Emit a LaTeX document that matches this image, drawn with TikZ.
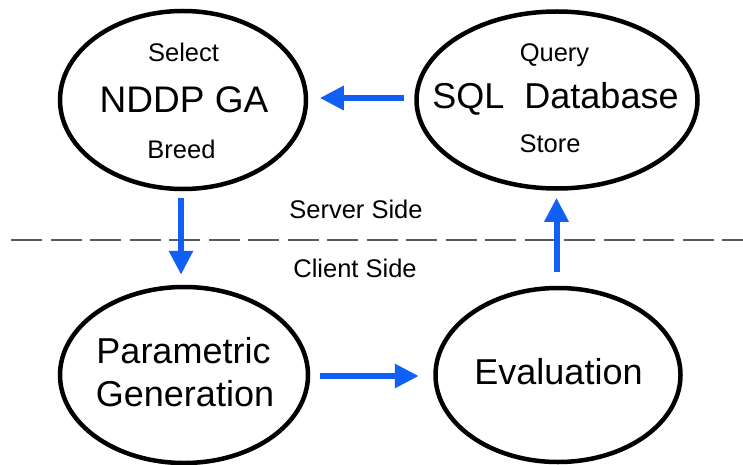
\documentclass[tikz,border=0pt]{standalone}
\usepackage{fontspec}
\setmainfont{Liberation Sans}
\usetikzlibrary{shapes.geometric,arrows.meta}
\definecolor{arrblue}{RGB}{16,96,245}
\definecolor{dashgray}{RGB}{90,90,90}
\tikzset{
  oval/.style={ellipse, draw=black, line width=4.5pt, inner sep=0pt},
  big/.style={anchor=base, inner sep=0pt, font=\fontsize{36}{43}\selectfont},
  small/.style={anchor=base, inner sep=0pt, font=\fontsize{25.5}{30}\selectfont},
  arr/.style={draw=arrblue, line width=6pt, -{Triangle[length=24pt,width=23pt]}},
  divider/.style={draw=dashgray, line width=2pt, dash pattern=on 31pt off 8.5pt}
}
\begin{document}
\begin{tikzpicture}[x=1pt,y=-1pt]
\useasboundingbox (0,0) rectangle (743,465);
% divider
\coordinate (dl) at (11,240);
\coordinate (dr) at (743,240);
\draw[divider] (dl) -- (dr);
% ellipses
\node[oval, minimum width=246pt, minimum height=178pt] (nddp) at (183,100) {};
\node[oval, minimum width=281pt, minimum height=177pt] (sql) at (557,100) {};
\node[oval, minimum width=248pt, minimum height=176pt] (param) at (184,375) {};
\node[oval, minimum width=245pt, minimum height=174pt] (eval) at (558,375) {};
% texts
\node[small] (select) at (183.5,62) {Select};
\node[big, font=\fontsize{37}{43}\selectfont] (nddpt) at (184,113) {NDDP GA};
\node[small] (breed) at (181.5,158) {Breed};
\node[small] (query) at (554.5,62) {Query};
\node[big] (sqlt) at (555.5,109) {SQL\hspace{10pt} Database};
\node[small] (store) at (550,153) {Store};
\node[big] (paramt1) at (183.5,363) {Parametric};
\node[big] (paramt2) at (185,406) {Generation};
\node[big] (evalt) at (558.5,384) {Evaluation};
\node[small] (server) at (356,218) {Server Side};
\node[small] (client) at (355,277) {Client Side};
% arrows
\draw[arr, shorten <=10.5pt, shorten >=11.5pt] ([yshift=2pt]sql.west) -- ([yshift=2pt]sql.west -| nddp.east);
\draw[arr, shorten <=7pt, shorten >=10pt] ([xshift=-2pt]nddp.south) -- ([xshift=-2pt]nddp.south |- param.north);
\draw[arr, shorten <=10pt, shorten >=14.5pt] ([yshift=-1pt]param.east) -- ([yshift=-1pt]param.east -| eval.west);
\draw[arr, shorten <=13.5pt, shorten >=7pt] ([xshift=-1.5pt]eval.north) -- ([xshift=-1.5pt]eval.north |- sql.south);
\end{tikzpicture}
\end{document}
